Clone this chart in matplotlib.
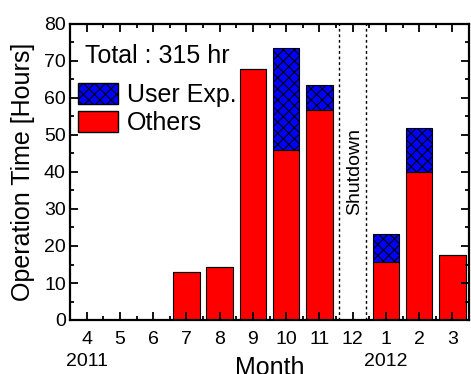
import matplotlib
matplotlib.use("Agg")
import matplotlib.pyplot as plt
from matplotlib.ticker import MultipleLocator
from matplotlib.patches import Patch

months = ["4", "5", "6", "7", "8", "9", "10", "11", "12", "1", "2", "3"]
others = [0, 0, 0, 13.0, 14.4, 67.8, 46.0, 56.7, 0, 15.8, 39.9, 17.6]
user_exp = [0, 0, 0, 0, 0, 0, 27.4, 6.7, 0, 7.4, 12.1, 0]
years = [("2011", 0), ("2012", 9)]
shutdown_edges = [7.6, 8.4]

plt.rcParams["font.family"] = ["Liberation Sans", "DejaVu Sans"]
plt.rcParams["hatch.linewidth"] = 0.8

fig = plt.figure(figsize=(4.71, 3.74), dpi=100)
ax = fig.add_axes([70 / 471, 54 / 374, 399 / 471, 296 / 374])

x = list(range(len(months)))
ax.bar(x, others, width=0.8, color="#ff0000", edgecolor="black", linewidth=0.8)
ax.bar(x, user_exp, width=0.8, bottom=others, color="#0000ff",
       edgecolor="black", linewidth=0.8, hatch="xxx")

for e in shutdown_edges:
    ax.axvline(e, color="black", linestyle=(0, (2, 2)), linewidth=1)
ax.text(8.07, 40, "Shutdown", rotation=90, ha="center", va="center", fontsize=14)

ax.set_xlim(-0.5, 11.5)
ax.set_ylim(0, 80)
ax.set_xticks(x)
ax.set_xticklabels(months)
ax.xaxis.set_minor_locator(MultipleLocator(0.5))
ax.yaxis.set_major_locator(MultipleLocator(10))
ax.yaxis.set_minor_locator(MultipleLocator(5))
ax.tick_params(which="both", direction="in", top=True, right=True, labelsize=14)
ax.tick_params(which="major", length=6, width=1.3)
ax.tick_params(which="minor", length=3, width=1.3)
ax.tick_params(axis="x", pad=8)
ax.tick_params(axis="y", pad=3)
for s in ax.spines.values():
    s.set_linewidth(1.6)

for label, pos in years:
    ax.text(pos, -11.3, label, ha="center", va="center", fontsize=14)

ax.text(0.5, -0.162, "Month", transform=ax.transAxes, ha="center", va="center",
        fontsize=18)
ax.set_ylabel("Operation Time [Hours]", fontsize=18, labelpad=0)
ax.yaxis.set_label_coords(-0.088, 0.5)

ax.text(0.038, 0.892, "Total : 315 hr", transform=ax.transAxes, fontsize=18,
        va="center")
handles = [Patch(facecolor="#0000ff", edgecolor="black", hatch="xxx", label="User Exp."),
           Patch(facecolor="#ff0000", edgecolor="black", label="Others")]
ax.legend(handles=handles, loc="upper left", bbox_to_anchor=(0.02, 0.80),
          frameon=False, fontsize=18, handlelength=1.6, handleheight=0.88,
          handletextpad=0.36, labelspacing=0.15, borderpad=0, borderaxespad=0)

fig.savefig("out.png", dpi=100)
